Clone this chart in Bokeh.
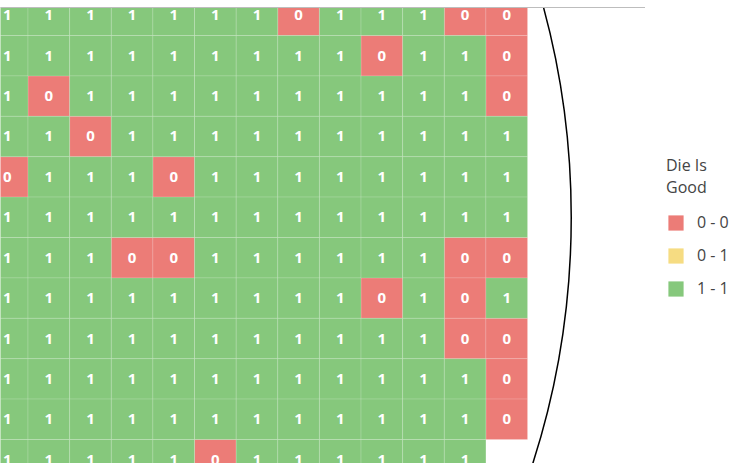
from bokeh.plotting import figure
from bokeh.layouts import row
from bokeh.models import ColumnDataSource, Range1d, Legend, LegendItem, LinearAxis, FixedTicker
from bokeh.core.properties import value
from bokeh.embed import file_html
from bokeh.resources import INLINE

# ---- data ---------------------------------------------------------------
die_columns = [0, 1, 2, 3, 4, 5, 6, 7, 8, 9, 10, 11, 12]
row_00 = [1, 1, 1, 1, 1, 1, 1, 0, 1, 1, 1, 0, 0]
row_01 = [1, 1, 1, 1, 1, 1, 1, 1, 1, 0, 1, 1, 0]
row_02 = [1, 0, 1, 1, 1, 1, 1, 1, 1, 1, 1, 1, 0]
row_03 = [1, 1, 0, 1, 1, 1, 1, 1, 1, 1, 1, 1, 1]
row_04 = [0, 1, 1, 1, 0, 1, 1, 1, 1, 1, 1, 1, 1]
row_05 = [1, 1, 1, 1, 1, 1, 1, 1, 1, 1, 1, 1, 1]
row_06 = [1, 1, 1, 0, 0, 1, 1, 1, 1, 1, 1, 0, 0]
row_07 = [1, 1, 1, 1, 1, 1, 1, 1, 1, 0, 1, 0, 1]
row_08 = [1, 1, 1, 1, 1, 1, 1, 1, 1, 1, 1, 0, 0]
row_09 = [1, 1, 1, 1, 1, 1, 1, 1, 1, 1, 1, 1, 0]
row_10 = [1, 1, 1, 1, 1, 1, 1, 1, 1, 1, 1, 1, 0]
row_11 = [1, 1, 1, 1, 1, 0, 1, 1, 1, 1, 1, 1, None]
die_rows = [row_00, row_01, row_02, row_03, row_04, row_05,
            row_06, row_07, row_08, row_09, row_10, row_11]

bin_labels = ["0 - 0", "0 - 1", "1 - 1"]
bin_colors = ["#EC7C77", "#F6DC82", "#86C87C"]
value_to_bin = {0: "0 - 0", 1: "1 - 1"}

# wafer outline (die-grid units)
wafer_center_x = -5.8
wafer_center_y = 5.0
wafer_diameter_x = 38.7
wafer_diameter_y = 39.9

# ---- build sources --------------------------------------------------------
sources = {b: {"x": [], "y": [], "t": []} for b in bin_labels}
for r, rw in enumerate(die_rows):
    for c, v in zip(die_columns, rw):
        if v is None:
            continue
        d = sources[value_to_bin[v]]
        d["x"].append(c)
        d["y"].append(r)
        d["t"].append(str(v))

p = figure(width=645, height=463, output_backend="svg", toolbar_location=None,
           x_range=Range1d(-0.161, 15.334), y_range=Range1d(11.094, -0.193),
           x_axis_location=None, y_axis_location=None,
           min_border_left=0, min_border_right=0, min_border_top=7, min_border_bottom=0)
p.xgrid.visible = False
p.ygrid.visible = False
p.outline_line_color = None
p.background_fill_color = "white"
p.border_fill_color = "white"

top_axis = LinearAxis(ticker=FixedTicker(ticks=[]), axis_line_color="#bdbdbd",
                      axis_line_width=1, major_tick_line_color=None,
                      minor_tick_line_color=None, major_label_standoff=0,
                      major_tick_out=0, minor_tick_out=0)
p.add_layout(top_axis, "above")

for b, col in zip(bin_labels, bin_colors):
    src = ColumnDataSource(sources[b])
    p.rect(x="x", y="y", width=1, height=1, source=src, fill_color=col,
           line_color="white", line_alpha=0.15, line_width=1)
    p.text(x="x", y="y", text="t", source=src, text_font=value("Open Sans"),
           text_font_style="bold", text_font_size="15px", text_color="white",
           text_align="center", text_baseline="middle")

p.ellipse(x=[wafer_center_x], y=[wafer_center_y], width=[wafer_diameter_x],
          height=[wafer_diameter_y], fill_color=None, line_color="black", line_width=1.5)

# ---- legend panel -----------------------------------------------------------
q = figure(width=99, height=463, output_backend="svg", toolbar_location=None,
           x_range=Range1d(0, 1), y_range=Range1d(0, 1),
           x_axis_location=None, y_axis_location=None,
           min_border_left=0, min_border_right=0, min_border_top=0, min_border_bottom=0)
q.xgrid.visible = False
q.ygrid.visible = False
q.outline_line_color = None
q.background_fill_color = "white"
q.border_fill_color = "white"

items = []
for b, col in zip(bin_labels, bin_colors):
    swatch = q.rect(x=[float("nan")], y=[float("nan")], width=1, height=1,
                    fill_color=col, line_color=None)
    items.append(LegendItem(label=b, renderers=[swatch]))

legend = Legend(items=items, location=(21, 164), title="Die Is\nGood",
                padding=0, margin=0, border_line_color=None, background_fill_alpha=0,
                glyph_width=19, glyph_height=19, label_standoff=12, label_height=20,
                spacing=11, label_text_font_size="16px", title_text_font_size="16px",
                title_text_font_style="normal", title_standoff=13,
                label_text_font="Open Sans", title_text_font="Open Sans",
                label_text_color="#444444", title_text_color="#444444")
q.add_layout(legend)

layout = row(p, q, spacing=0)
open("out.html", "w").write(file_html(layout, INLINE))
